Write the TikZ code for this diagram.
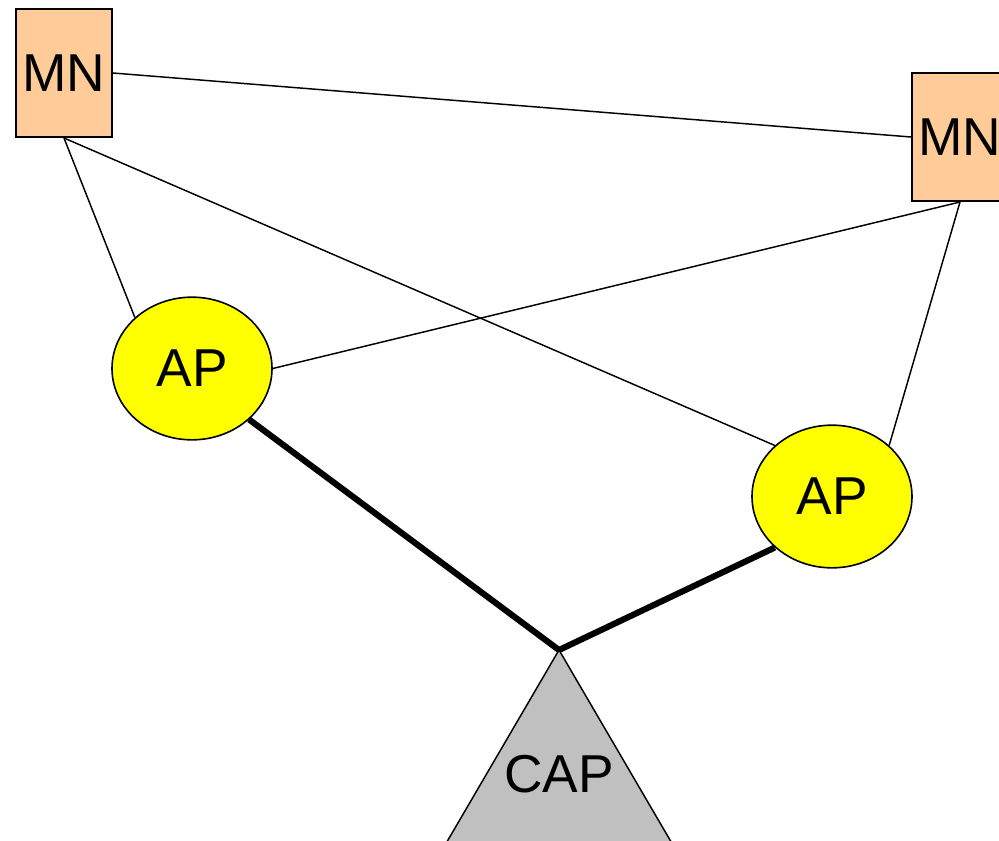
\documentclass[tikz,border=0pt]{standalone}
\usepackage{fontspec}
\setmainfont{Liberation Sans}
\usetikzlibrary{shapes.geometric}
\definecolor{peach}{HTML}{FFCC99}
\definecolor{apyellow}{HTML}{FFFF00}
\definecolor{capgrey}{HTML}{C0C0C0}
\tikzset{
  mnbox/.style={draw, line width=1.5pt, fill=peach, rectangle, inner sep=0pt,
    minimum width=72pt, minimum height=96pt, font=\fontsize{40}{48}\selectfont},
  apnode/.style={draw, line width=1.2pt, fill=apyellow, ellipse, inner sep=0pt,
    minimum width=120pt, minimum height=107pt, font=\fontsize{40}{48}\selectfont},
  thin link/.style={line width=1.1pt},
  thick link/.style={line width=4.6pt},
  captext/.style={font=\fontsize{40}{48}\selectfont, inner sep=0pt}
}
\begin{document}
\begin{tikzpicture}[x=0.75pt, y=-0.75pt]
\useasboundingbox (0,0) rectangle (999,840);
\clip (0,0) rectangle (999,840);
\fill[white] (0,0) rectangle (999,840);
% nodes
\node[mnbox] (mn1) at (64,73) {MN};
\node[mnbox] (mn2) at (960,137) {MN};
\node[apnode] (ap1) at (192,368.5) {AP};
\node[apnode] (ap2) at (832,496.5) {AP};
\coordinate (captop) at (559,650);
\coordinate (capleft) at (354.5,1000);
\coordinate (capright) at (763.5,1000);
\draw[line width=1.1pt, fill=capgrey] (captop) -- (capleft) -- (capright) -- cycle;
\node[captext] (cap) at (559,774) {CAP};
% connectors
\draw[thin link] (mn1.east) -- (mn2.west);
\draw[thin link] (mn1.south) -- (ap1.north west);
\draw[thin link] (mn1.south) -- (ap2.north west);
\draw[thin link] (mn2.south) -- (ap1.east);
\draw[thin link] (mn2.south) -- (ap2.north east);
\draw[thick link] (ap1.south east) -- (captop);
\draw[thick link] (ap2.south west) -- (captop);
\end{tikzpicture}
\end{document}
